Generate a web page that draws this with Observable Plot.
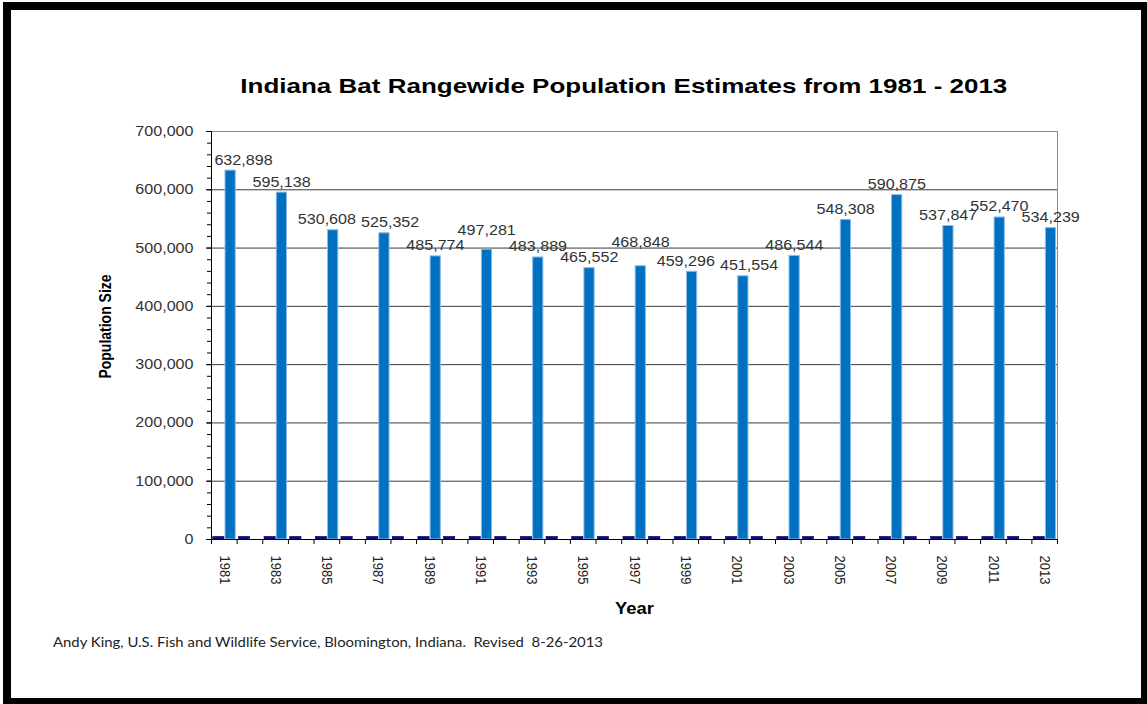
<!DOCTYPE html>
<html>
<head>
<meta charset="utf-8">
<script src="https://cdn.jsdelivr.net/npm/d3@7"></script>
<script src="https://cdn.jsdelivr.net/npm/@observablehq/plot@0.6"></script>
<style>
  html, body { margin: 0; padding: 0; background: #fff; width: 1147px; height: 704px; overflow: hidden; }
  #page { position: relative; width: 1147px; height: 704px; overflow: hidden; }
  #frame { position: absolute; left: 3px; top: 2px; width: 1146px; height: 704px; border: 8px solid #000; box-sizing: border-box; pointer-events: none; z-index: 5; }
  #title { position: absolute; left: 0; top: 74.5px; width: 1247px; text-align: center; font: bold 21px/21px "Liberation Sans", Arial, sans-serif; color: #000; white-space: nowrap; }
  #title span, #caption span { display: inline-block; white-space: nowrap; }
  #title span { transform-origin: 50% 50%; }
  #caption { position: absolute; left: 53px; top: 636px; font: 13px/13px Lato, "Open Sans", sans-serif; color: #222; white-space: nowrap; }
  #caption span { transform-origin: 0 50%; }
  #chart { position: absolute; left: 0; top: 110px; }
</style>
</head>
<body>
<div id="page">
  <div id="title"><span>Indiana Bat Rangewide Population Estimates from 1981 - 2013</span></div>
  <div id="chart"></div>
  <div id="caption"><span>Andy King, U.S. Fish and Wildlife Service, Bloomington, Indiana.&nbsp; Revised&nbsp; 8-26-2013</span></div>
  <div id="frame"></div>
</div>
<script>
// ---- data ----
const surveyYears = [1981, 1983, 1985, 1987, 1989, 1991, 1993, 1995, 1997, 1999, 2001, 2003, 2005, 2007, 2009, 2011, 2013];
const population = [632898, 595138, 530608, 525352, 485774, 497281, 483889, 465552, 468848, 459296, 451554, 486544, 548308, 590875, 537847, 552470, 534239];
const allYears = [1981, 1982, 1983, 1984, 1985, 1986, 1987, 1988, 1989, 1990, 1991, 1992, 1993, 1994, 1995, 1996, 1997, 1998, 1999, 2000, 2001, 2002, 2003, 2004, 2005, 2006, 2007, 2008, 2009, 2010, 2011, 2012, 2013];
const secondSeries = [4500, 4500, 4500, 4500, 4500, 4500, 4500, 4500, 4500, 4500, 4500, 4500, 4500, 4500, 4500, 4500, 4500, 4500, 4500, 4500, 4500, 4500, 4500, 4500, 4500, 4500, 4500, 4500, 4500, 4500, 4500, 4500, 4500];
const yTicks = [0, 100000, 200000, 300000, 400000, 500000, 600000, 700000];
const gridValues = [100000, 200000, 300000, 400000, 500000, 600000];
const yMinorStep = 20000;
const titleText = "Indiana Bat Rangewide Population Estimates from 1981 - 2013";
const xLabel = "Year";
const yLabel = "Population Size";

// ---- layout ----
const W = 1147, H = 520, MT = 21, MB = 91, ML = 211, MR = 90;
const FONT = "'Liberation Sans', Arial, sans-serif";

const mainRows = surveyYears.map((year, i) => ({year, value: population[i]}));
const secondRows = allYears.map((year, i) => ({year, value: secondSeries[i]}));
const edges = allYears.map(y => y - 0.5).concat([allYears[allYears.length - 1] + 0.5]);
const yMax = yTicks[yTicks.length - 1];
const minorTicks = d3.range(0, yMax + 1, yMinorStep);

// label placement: centred over each bar, then de-overlapped against the left neighbour
// (a higher neighbour is lifted above it, a lower one is spread sideways)
const xScale = Plot.scale({x: {type: "linear", domain: [edges[0], edges[edges.length - 1]], range: [ML, W - MR]}});
const yScale = Plot.scale({y: {type: "linear", domain: [0, yMax], range: [H - MB, MT]}});
const gap = 6, lift = 15, thresh = 8, spread = 6, barOffset = 6, halfLabel = 29;
const placed = mainRows.map(d => ({...d, px: xScale.apply(d.year) + barOffset, b: yScale.apply(d.value) - gap}));
for (let i = 1; i < placed.length; i++) {
  const p = placed[i - 1], c = placed[i];
  if (Math.abs(c.b - p.b) < thresh) {
    if (c.value > p.value) c.b = p.b - lift;
    else { p.px -= spread; c.px += spread; }
  }
}
placed.forEach(d => { d.px = Math.max(d.px, ML + halfLabel + 3); });
const labelRows = placed.map(d => ({...d, lx: xScale.invert(d.px), ly: yScale.invert(d.b)}));

const chart = Plot.plot({
  width: W, height: H,
  marginTop: MT, marginBottom: MB, marginLeft: ML, marginRight: MR,
  style: {fontFamily: FONT, fontSize: "14px", background: "transparent", color: "#000"},
  x: {type: "linear", domain: [edges[0], edges[edges.length - 1]]},
  y: {type: "linear", domain: [0, yMax]},
  marks: [
    Plot.ruleY(gridValues, {stroke: "#3a3a3a", strokeWidth: 1}),
    Plot.ruleY([yMax], {stroke: "#8a8a8a", strokeWidth: 1}),
    Plot.ruleX([edges[edges.length - 1]], {stroke: "#8a8a8a", strokeWidth: 1}),
    Plot.rectY(secondRows, {x1: d => d.year - 0.5, x2: d => d.year + 0.5, y: "value", fill: "#0c0c8a", stroke: "#05055a", strokeWidth: 0.6, insetLeft: 1.8, insetRight: 12.6}),
    Plot.rectY(mainRows, {x1: d => d.year - 0.5, x2: d => d.year + 0.5, y: "value", fill: "#0070C0", stroke: "#8fbbe6", strokeWidth: 1, insetLeft: 14, insetRight: 1.4}),
    Plot.ruleY([0], {stroke: "#000", strokeWidth: 1}),
    Plot.ruleX([edges[0]], {stroke: "#000", strokeWidth: 1}),
    Plot.axisY({ticks: minorTicks, tickSize: 4, tickFormat: () => "", stroke: "#000", label: null}),
    Plot.axisY({ticks: yTicks, tickSize: 5, tickPadding: 13, tickFormat: d3.format(","), stroke: "#000", fill: "#333", fontSize: 14, label: null}),
    Plot.axisX({ticks: edges, tickSize: 5, tickFormat: () => "", stroke: "#000", label: null}),
    Plot.text(surveyYears, {x: d => d, frameAnchor: "bottom", rotate: 90, textAnchor: "start", lineAnchor: "middle", dy: 16, fontSize: 13, fill: "#222", text: d => String(d)}),
    Plot.text(labelRows, {x: "lx", y: "ly", lineAnchor: "bottom", textAnchor: "middle", fontSize: 14, fill: "#333", text: d => d3.format(",")(d.value)}),
    Plot.text([xLabel], {frameAnchor: "bottom", dy: 74, lineAnchor: "bottom", textAnchor: "middle", fontSize: 16, fontWeight: "bold", fill: "#000", text: d => d}),
    Plot.text([yLabel], {frameAnchor: "left", rotate: -90, dx: -106, dy: -9, lineAnchor: "middle", textAnchor: "middle", fontSize: 14, fontWeight: "bold", fill: "#000", text: d => d})
  ]
});
document.getElementById("chart").append(chart);

// the reference image is widened horizontally: stretch glyphs along screen x
const STRETCH = 1.15;
chart.querySelectorAll("text").forEach(t => {
  if (!t.textContent.trim()) return;
  const own = t.getAttribute("transform") || "";
  const parent = t.parentNode.getAttribute("transform") || "";
  if (own.includes("rotate")) { t.setAttribute("transform", own + ` scale(1,${STRETCH})`); return; }
  if (parent.includes("rotate")) { t.setAttribute("transform", own + ` scale(1,${STRETCH})`); return; }
  const L = t.getComputedTextLength();
  t.setAttribute("textLength", (L * STRETCH).toFixed(2));
  t.setAttribute("lengthAdjust", "spacingAndGlyphs");
});

// title and caption widths
function fitWidth(span, target) {
  const w = span.getBoundingClientRect().width;
  span.style.transform = `scaleX(${target / w})`;
}
document.querySelector("#title span").textContent = titleText;
fitWidth(document.querySelector("#title span"), 767);
fitWidth(document.querySelector("#caption span"), 550);
</script>
</body>
</html>
